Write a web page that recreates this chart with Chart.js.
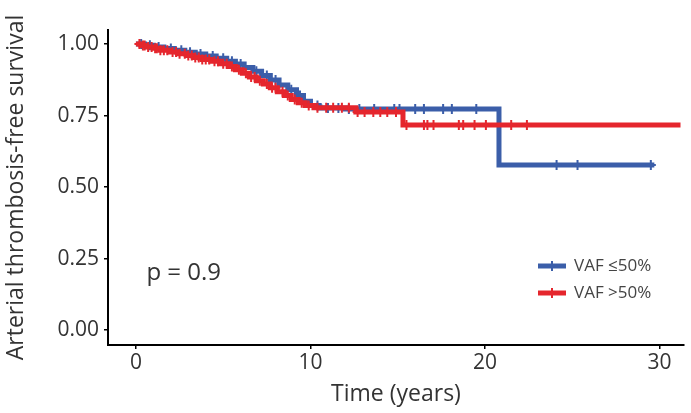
<!DOCTYPE html>
<html lang="en">
<head>
  <meta charset="UTF-8">
  <title>Arterial thrombosis-free survival</title>
  <style>
    body {
      margin: 0;
      padding: 0;
      background-color: #fff;
    }
    .chart-box {
      width: 691px;
      height: 413px;
    }
  </style>
  <script src="https://cdn.jsdelivr.net/npm/chart.js"></script>
</head>
<body>
  <div class="chart-box">
    <canvas id="km-chart" width="691" height="413"></canvas>
  </div>

  <script>
    // Kaplan-Meier steps
    const lowTimes = [0, 0.5, 1.0, 1.6, 2.2, 2.8, 3.4, 4.0, 4.6, 5.2, 5.7, 6.2, 6.7, 7.2, 7.7, 8.2, 8.7, 9.2, 9.6, 10.0, 10.5, 12.0, 20.8, 29.7];
    const lowSurv = [1.00, 0.996, 0.99, 0.984, 0.978, 0.971, 0.965, 0.958, 0.95, 0.94, 0.93, 0.918, 0.905, 0.89, 0.874, 0.857, 0.84, 0.82, 0.80, 0.785, 0.776, 0.773, 0.577, 0.577];
    const lowCensor = [0.3, 0.8, 1.3, 2.0, 2.6, 3.1, 3.7, 4.4, 5.0, 5.5, 6.0, 6.9, 7.5, 8.0, 8.9, 9.4, 10.4, 11.0, 11.6, 12.2, 12.8, 13.65, 14.8, 15.1, 16.0, 16.5, 17.6, 18.1, 19.5, 24.1, 25.3, 29.5];

    const highTimes = [0, 0.3, 0.6, 1.0, 1.4, 1.9, 2.4, 2.9, 3.3, 3.8, 4.3, 4.8, 5.3, 5.7, 6.1, 6.5, 6.9, 7.3, 7.7, 8.1, 8.5, 8.9, 9.3, 9.7, 10.2, 12.6, 15.3, 31.2];
    const highSurv = [1.00, 0.995, 0.99, 0.985, 0.978, 0.972, 0.966, 0.96, 0.953, 0.946, 0.94, 0.931, 0.921, 0.91, 0.898, 0.885, 0.872, 0.86, 0.847, 0.833, 0.82, 0.806, 0.795, 0.785, 0.777, 0.762, 0.717, 0.717];
    const highCensor = [0.2, 0.4, 0.5, 0.7, 0.9, 1.1, 1.2, 1.4, 1.6, 1.8, 2.1, 2.3, 2.5, 2.8, 3.0, 3.2, 3.4, 3.6, 3.8, 4.0, 4.2, 4.5, 4.7, 5.0, 5.2, 5.5, 5.9, 6.3, 6.6, 6.8, 7.1, 7.5, 7.8, 8.0, 8.4, 8.7, 9.1, 9.5, 9.9, 10.4, 10.9, 11.3, 11.8, 12.2, 12.7, 13.1, 13.6, 14.0, 14.4, 14.9, 15.5, 16.5, 16.7, 17.05, 18.5, 18.75, 19.4, 20.05, 21.5, 22.4];

    const groupLabels = ['VAF \u226450%', 'VAF >50%'];
    const groupColors = ['#3b5ea9', '#e5262d'];
    const yTicks = [0, 0.25, 0.5, 0.75, 1.0];
    const xTicks = [0, 10, 20, 30];
    const pValueText = 'p = 0.9';

    const textColor = '#333';
    const fontName = '"Open Sans", "DejaVu Sans", sans-serif';

    // survival value at time t on a step curve
    function survAt(times, surv, t) {
      let s = surv[0];
      for (let i = 0; i < times.length; i++) {
        if (times[i] <= t) s = surv[i];
      }
      return s;
    }

    function stepData(times, surv) {
      return times.map((t, i) => ({ x: t, y: surv[i] }));
    }

    function censorData(times, surv, censor) {
      return censor.map(t => ({ x: t, y: survAt(times, surv, t) }));
    }

    // legend inside the plot, bottom right, plus the p-value
    const insideText = {
      id: 'insideText',
      afterDraw(chart) {
        const ctx = chart.ctx;
        const area = chart.chartArea;
        const xs = chart.scales.x;
        const ys = chart.scales.y;
        ctx.save();

        ctx.fillStyle = textColor;
        ctx.font = '24px ' + fontName;
        ctx.textBaseline = 'middle';
        ctx.textAlign = 'left';
        ctx.fillText(pValueText, xs.getPixelForValue(0.6), ys.getPixelForValue(0.2));

        ctx.font = '17px ' + fontName;
        groupLabels.forEach((label, i) => {
          const y = area.bottom - 79 + i * 27;
          const x0 = area.right - 146;
          ctx.strokeStyle = groupColors[i];
          ctx.lineWidth = 5;
          ctx.beginPath();
          ctx.moveTo(x0, y);
          ctx.lineTo(x0 + 28, y);
          ctx.stroke();
          ctx.lineWidth = 2;
          ctx.beginPath();
          ctx.moveTo(x0 + 14, y - 5);
          ctx.lineTo(x0 + 14, y + 5);
          ctx.stroke();
          ctx.fillStyle = '#444';
          ctx.fillText(label, x0 + 36, y);
        });
        ctx.restore();
      }
    };

    document.addEventListener('DOMContentLoaded', function () {
      const ctx = document.getElementById('km-chart').getContext('2d');

      const datasets = [
        {
          label: groupLabels[1] + ' censored',
          data: censorData(highTimes, highSurv, highCensor),
          pointStyle: 'cross',
          pointRadius: 5,
          pointBorderWidth: 2,
          borderColor: groupColors[1],
          showLine: false
        },
        {
          label: groupLabels[1],
          data: stepData(highTimes, highSurv),
          borderColor: groupColors[1],
          borderWidth: 5,
          pointRadius: 0,
          showLine: true,
          stepped: true
        },
        {
          label: groupLabels[0] + ' censored',
          data: censorData(lowTimes, lowSurv, lowCensor),
          pointStyle: 'cross',
          pointRadius: 5,
          pointBorderWidth: 2,
          borderColor: groupColors[0],
          showLine: false
        },
        {
          label: groupLabels[0],
          data: stepData(lowTimes, lowSurv),
          borderColor: groupColors[0],
          borderWidth: 5,
          pointRadius: 0,
          showLine: true,
          stepped: true
        }
      ];

      new Chart(ctx, {
        type: 'scatter',
        data: { datasets: datasets },
        options: {
          responsive: false,
          animation: false,
          layout: { padding: { top: 30, right: 0, left: 0, bottom: 0 } },
          plugins: {
            legend: { display: false },
            tooltip: { enabled: false }
          },
          scales: {
            x: {
              type: 'linear',
              min: -1.6,
              max: 31.4,
              afterBuildTicks: s => { s.ticks = xTicks.map(v => ({ value: v })); },
              afterFit: s => { s.height = 68; },
              grid: { drawOnChartArea: false, drawTicks: true, tickLength: 4, color: '#000', lineWidth: 1.5 },
              border: { display: true, color: '#000', width: 2 },
              ticks: { color: textColor, font: { family: fontName, size: 21 }, padding: 1, maxRotation: 0 },
              title: { display: true, text: 'Time (years)', color: textColor, font: { family: fontName, size: 23 }, padding: { top: 0, bottom: 5 } }
            },
            y: {
              type: 'linear',
              min: -0.052,
              max: 1.049,
              afterBuildTicks: s => { s.ticks = yTicks.map(v => ({ value: v })); },
              afterFit: s => { s.width = 108; },
              grid: { drawOnChartArea: false, drawTicks: true, tickLength: 4, color: '#000', lineWidth: 1.5 },
              border: { display: true, color: '#000', width: 2 },
              ticks: { color: textColor, font: { family: fontName, size: 21 }, padding: 5, callback: v => v.toFixed(2) },
              title: { display: true, text: 'Arterial thrombosis-free survival', color: textColor, font: { family: fontName, size: 23 }, padding: { top: 3, bottom: 3 } }
            }
          }
        },
        plugins: [insideText]
      });
    });
  </script>
</body>
</html>
